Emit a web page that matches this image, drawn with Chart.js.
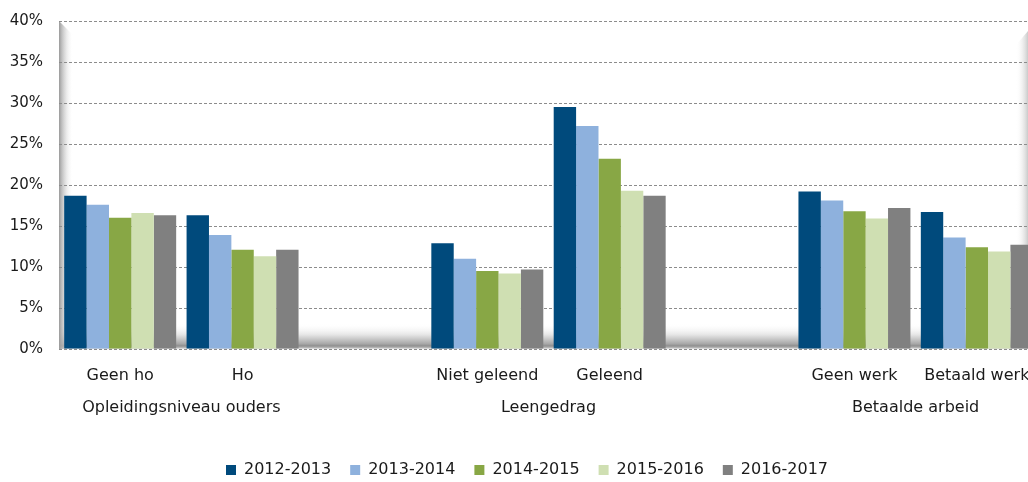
<!DOCTYPE html>
<html>
<head>
<meta charset="utf-8">
<script src="https://cdn.jsdelivr.net/npm/chart.js@4"></script>
<style>
  html, body { margin: 0; padding: 0; background: #fff; overflow: hidden; }
  #wrap { width: 1054px; height: 482px; }
</style>
</head>
<body>
<div id="wrap"><canvas id="studieChart"></canvas></div>
<script>
// categories (empty slots separate the groups)
const categories = ["Geen ho", "Ho", "", "Niet geleend", "Geleend", "", "Geen werk", "Betaald werk"];
const groupNames = ["Opleidingsniveau ouders", "Leengedrag", "Betaalde arbeid"];
const groupSlots = [[0, 1], [3, 4], [6, 7]];

const years = ["2012-2013", "2013-2014", "2014-2015", "2015-2016", "2016-2017"];

// percentages per year
const v2012 = [18.7, 16.3, null, 12.9, 29.5, null, 19.2, 16.7];
const v2013 = [17.6, 13.9, null, 11.0, 27.2, null, 18.1, 13.6];
const v2014 = [16.0, 12.1, null, 9.5, 23.2, null, 16.8, 12.4];
const v2015 = [16.6, 11.3, null, 9.2, 19.3, null, 15.9, 11.9];
const v2016 = [16.3, 12.1, null, 9.7, 18.7, null, 17.2, 12.7];

const yTicks = [0, 5, 10, 15, 20, 25, 30, 35, 40];

const colors = ["#004A7C", "#8EB1DD", "#88A745", "#CFDFB2", "#808080"];
const FONT = "'DejaVu Sans', sans-serif";
const PLOT_TOP = 21;

// grey shading on the left wall, right edge and floor of the plot
const shading = {
    id: "shading",
    beforeDraw(chart) {
        const { ctx, chartArea: a } = chart;
        ctx.save();

        // floor
        let g = ctx.createLinearGradient(0, a.bottom - 26, 0, a.bottom);
        g.addColorStop(0, "rgba(255,255,255,0)");
        g.addColorStop(0.45, "#e6e6e6");
        g.addColorStop(0.8, "#a8a8a8");
        g.addColorStop(0.88, "#8f8f8f");
        g.addColorStop(0.95, "#b8b8b8");
        g.addColorStop(1, "#eeeeee");
        ctx.fillStyle = g;
        ctx.fillRect(a.left, a.bottom - 26, a.right - a.left, 26);

        // left wall
        g = ctx.createLinearGradient(a.left, 0, a.left + 14, 0);
        g.addColorStop(0, "#9a9a9a");
        g.addColorStop(1, "rgba(255,255,255,0)");
        ctx.fillStyle = g;
        ctx.beginPath();
        ctx.moveTo(a.left, a.top);
        ctx.lineTo(a.left + 14, a.top + 14);
        ctx.lineTo(a.left + 14, a.bottom);
        ctx.lineTo(a.left, a.bottom);
        ctx.closePath();
        ctx.fill();

        // right edge
        const rx = a.right - 22;
        g = ctx.createLinearGradient(rx, 0, rx + 16, 0);
        g.addColorStop(0, "rgba(255,255,255,0)");
        g.addColorStop(1, "#a0a0a0");
        ctx.fillStyle = g;
        ctx.beginPath();
        ctx.moveTo(rx, a.top + 24);
        ctx.lineTo(rx + 12, a.top + 10);
        ctx.lineTo(a.right, a.top + 10);
        ctx.lineTo(a.right, a.bottom);
        ctx.lineTo(rx, a.bottom);
        ctx.closePath();
        ctx.fill();

        ctx.restore();
    }
};

// pin the plot top and drop the legend a bit lower
const fixLayout = {
    id: "fixLayout",
    afterLayout(chart) {
        const a = chart.chartArea;
        a.top = PLOT_TOP;
        a.height = a.bottom - a.top;
        ["y", "yRight"].forEach(id => {
            const s = chart.scales[id];
            s.top = PLOT_TOP;
            s.height = s.bottom - s.top;
            s.configure();
        });
        chart.legend.top += 6;
        chart.legend.bottom += 6;
    }
};

// group captions under the category labels
const groupLabels = {
    id: "groupLabels",
    afterDraw(chart) {
        const { ctx } = chart;
        const x = chart.scales.x;
        ctx.save();
        ctx.font = "16px " + FONT;
        ctx.fillStyle = "#1a1a1a";
        ctx.textAlign = "center";
        ctx.textBaseline = "middle";
        groupSlots.forEach((s, i) => {
            const cx = (x.getPixelForValue(s[0]) + x.getPixelForValue(s[1])) / 2;
            ctx.fillText(groupNames[i], cx, 408);
        });
        ctx.restore();
    }
};

const seriesValues = [v2012, v2013, v2014, v2015, v2016];

const ctx = document.getElementById("studieChart");

new Chart(ctx, {
    type: "bar",
    data: {
        labels: categories,
        datasets: years.map((y, i) => ({
            label: y,
            data: seriesValues[i],
            backgroundColor: colors[i],
            borderWidth: 0,
            categoryPercentage: 0.915,
            barPercentage: 1.0
        }))
    },
    options: {
        responsive: true,
        maintainAspectRatio: false,
        animation: false,
        layout: { autoPadding: false, padding: { top: 21, left: 0, right: 0, bottom: 0 } },
        scales: {
            x: {
                grid: { display: false, drawTicks: false },
                border: { display: false },
                ticks: {
                    padding: 17,
                    color: "#1a1a1a",
                    font: { family: FONT, size: 16 },
                    maxRotation: 0,
                    autoSkip: false
                },
                afterFit(s) { s.height = 88; }
            },
            y: {
                min: 0,
                max: 40,
                afterBuildTicks(s) { s.ticks = yTicks.map(v => ({ value: v })); },
                grid: {
                    color: "#8c8c8c",
                    lineWidth: 1,
                    drawTicks: false
                },
                border: { display: false, dash: [3, 2] },
                ticks: {
                    padding: 16,
                    color: "#1a1a1a",
                    font: { family: FONT, size: 15 },
                    callback: v => v + "%"
                },
                afterFit(s) { s.width = 59; }
            },
            yRight: {
                position: "right",
                grid: { display: false, drawTicks: false },
                border: { display: false },
                ticks: { display: false },
                afterFit(s) { s.width = 16; }
            }
        },
        plugins: {
            legend: {
                position: "bottom",
                labels: {
                    boxWidth: 10,
                    boxHeight: 10,
                    padding: 19,
                    color: "#1a1a1a",
                    font: { family: FONT, size: 16 }
                }
            },
            tooltip: { enabled: false }
        }
    },
    plugins: [shading, fixLayout, groupLabels]
});
</script>
</body>
</html>
